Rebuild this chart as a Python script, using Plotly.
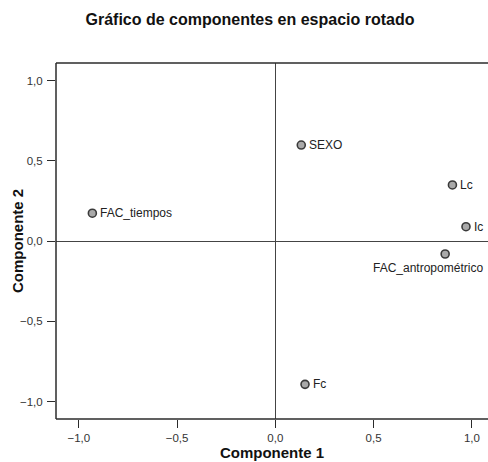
import plotly.graph_objects as go

# Datos: cargas en espacio rotado
variables = ["SEXO", "Lc", "Ic", "FAC_antropométrico", "FAC_tiempos", "Fc"]
comp1 = [0.132, 0.901, 0.970, 0.864, -0.931, 0.151]
comp2 = [0.598, 0.349, 0.089, -0.081, 0.173, -0.893]
ticks = [-1.0, -0.5, 0.0, 0.5, 1.0]

FONT = "Liberation Sans, Arial, sans-serif"
LINE = "#2b2b2b"

W, H = 488, 462
ML, MR, MT, MB = 56, 0, 63, 43

fig = go.Figure()

fig.add_trace(
    go.Scatter(
        x=comp1,
        y=comp2,
        mode="markers",
        marker=dict(
            size=8,
            color="#a9a9a9",
            line=dict(color="#3a3a3a", width=1.6)
        ),
        hoverinfo="skip",
        showlegend=False
    )
)

# Etiquetas de los puntos
for name, x, y in zip(variables, comp1, comp2):
    if name == "FAC_antropométrico":
        fig.add_annotation(
            x=x, y=y, text=name, showarrow=False,
            xanchor="center", yanchor="top",
            xshift=-17, yshift=-5,
            font=dict(family=FONT, size=12, color="#222222")
        )
    else:
        fig.add_annotation(
            x=x, y=y, text=name, showarrow=False,
            xanchor="left", yanchor="middle",
            xshift=6, yshift=0,
            font=dict(family=FONT, size=12, color="#222222")
        )

# Título del eje Y
fig.add_annotation(
    x=-(ML - 17) / (W - ML - MR), y=0.5,
    xref="paper", yref="paper",
    text="<b>Componente 2</b>", textangle=-90,
    showarrow=False, xanchor="center", yanchor="middle",
    font=dict(family=FONT, size=15, color="#111111")
)

# Marco: izquierda, arriba, abajo
for x0, y0, x1, y1 in [(0, 0, 0, 1), (0, 1, 1, 1), (0, 0, 1, 0)]:
    fig.add_shape(
        type="line", xref="paper", yref="paper",
        x0=x0, y0=y0, x1=x1, y1=y1,
        line=dict(color=LINE, width=1.5)
    )

fig.update_layout(
    width=W,
    height=H,
    separators=",.",
    title=dict(
        text="<b>Gráfico de componentes en espacio rotado</b>",
        x=250 / W,
        xanchor="center",
        y=1 - 19 / H,
        yanchor="middle",
        font=dict(family=FONT, size=16, color="#111111")
    ),
    plot_bgcolor="white",
    paper_bgcolor="white",
    font=dict(family=FONT, size=12, color="#333333"),
    margin=dict(l=ML, r=MR, t=MT, b=MB)
)

fig.update_xaxes(
    range=[-1.116, 1.082],
    tickvals=ticks,
    tickformat=".1f",
    ticks="outside",
    ticklen=8,
    tickcolor=LINE,
    showgrid=False,
    zeroline=True,
    zerolinecolor="#444444",
    zerolinewidth=1.3,
    showline=False,
    title=dict(
        text="<b>Componente 1</b>",
        standoff=1,
        font=dict(family=FONT, size=15, color="#111111")
    ),
    tickfont=dict(family=FONT, size=11.5, color="#333333")
)

fig.update_yaxes(
    range=[-1.109, 1.109],
    tickvals=ticks,
    tickformat=".1f",
    ticks="outside",
    ticklen=8,
    tickcolor=LINE,
    ticklabelstandoff=2,
    showgrid=False,
    zeroline=True,
    zerolinecolor="#444444",
    zerolinewidth=1.3,
    showline=False,
    tickfont=dict(family=FONT, size=11.5, color="#333333")
)

# sin margen del cuerpo para que la figura ocupe toda la ventana
fig.write_html(
    "out.html",
    config={"displayModeBar": False},
    post_script="document.body.style.margin='0';"
                "document.body.style.overflow='hidden';"
)
